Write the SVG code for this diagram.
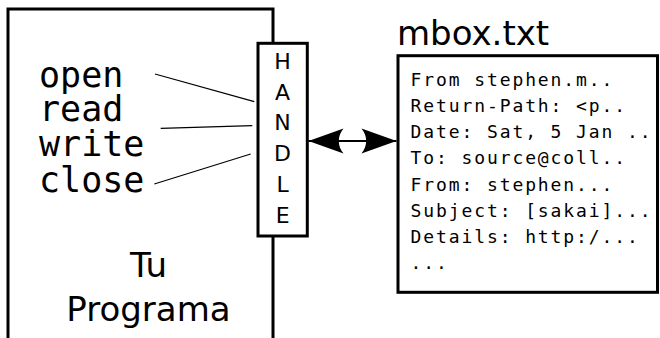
<svg xmlns="http://www.w3.org/2000/svg" width="660" height="338" viewBox="0 0 660 338">
  <style>
    .box { fill: #ffffff; stroke: #000000; stroke-width: 3; }
    .thin { stroke: #000000; stroke-width: 1.2; fill: none; }
    .mono-big { font-family: "DejaVu Sans Mono", "Liberation Mono", monospace; font-size: 35px; fill: #000000; }
    .mono { font-family: "DejaVu Sans Mono", "Liberation Mono", monospace; font-size: 18px; letter-spacing: 1.9px; fill: #000000; }
    .sans { font-family: "DejaVu Sans", "Liberation Sans", sans-serif; fill: #000000; }
  </style>
  <defs>
    <marker id="arrow" markerUnits="userSpaceOnUse" markerWidth="40" markerHeight="30" viewBox="-30 -12 32 24" refX="0" refY="0" orient="auto-start-reverse">
      <path d="M0,0 L-28,-10 C-23,-4 -23,4 -28,10 Z" fill="#000000"/>
    </marker>
  </defs>
  <rect width="660" height="338" fill="#ffffff"/>

  <g id="program">
    <rect class="box" x="8" y="9" width="265" height="345"/>
    <text class="mono-big" x="39" y="86.5">open</text>
    <text class="mono-big" x="39" y="121">read</text>
    <text class="mono-big" x="39" y="156">write</text>
    <text class="mono-big" x="39" y="191.5">close</text>
    <text class="sans" x="148.5" y="277.3" font-size="34" text-anchor="middle">Tu</text>
    <text class="sans" x="148.5" y="320.7" font-size="34" text-anchor="middle">Programa</text>
  </g>

  <g id="handle">
    <rect class="box" x="258" y="43.3" width="49.3" height="192.7"/>
    <g class="sans" font-size="22" text-anchor="middle">
      <text x="282.6" y="69">H</text>
      <text x="282.6" y="99.7">A</text>
      <text x="282.6" y="130.4">N</text>
      <text x="282.6" y="161">D</text>
      <text x="282.6" y="191.7">L</text>
      <text x="282.6" y="222.5">E</text>
    </g>
  </g>

  <g id="mbox">
    <text class="sans" x="397" y="45" font-size="34">mbox.txt</text>
    <rect class="box" x="398" y="55.7" width="259.5" height="236.6"/>
    <text class="mono" x="410.5" y="85.7">From stephen.m..</text>
    <text class="mono" x="410.5" y="111.9">Return-Path: &lt;p..</text>
    <text class="mono" x="410.5" y="138.1">Date: Sat, 5 Jan ..</text>
    <text class="mono" x="410.5" y="164.3">To: source@coll..</text>
    <text class="mono" x="410.5" y="190.5">From: stephen...</text>
    <text class="mono" x="410.5" y="216.7">Subject: [sakai]...</text>
    <text class="mono" x="410.5" y="242.9">Details: http:/...</text>
    <text class="mono" x="410.5" y="269.1">...</text>
  </g>

  <g id="connectors">
    <line class="thin" x1="155" y1="74" x2="254.3" y2="101.7"/>
    <line class="thin" x1="160.7" y1="128.3" x2="252.3" y2="125.7"/>
    <line class="thin" x1="154.3" y1="184" x2="250.7" y2="154"/>
    <line x1="308.5" y1="141" x2="396.5" y2="141" stroke="#000000" stroke-width="1.8" marker-start="url(#arrow)" marker-end="url(#arrow)"/>
  </g>
</svg>
